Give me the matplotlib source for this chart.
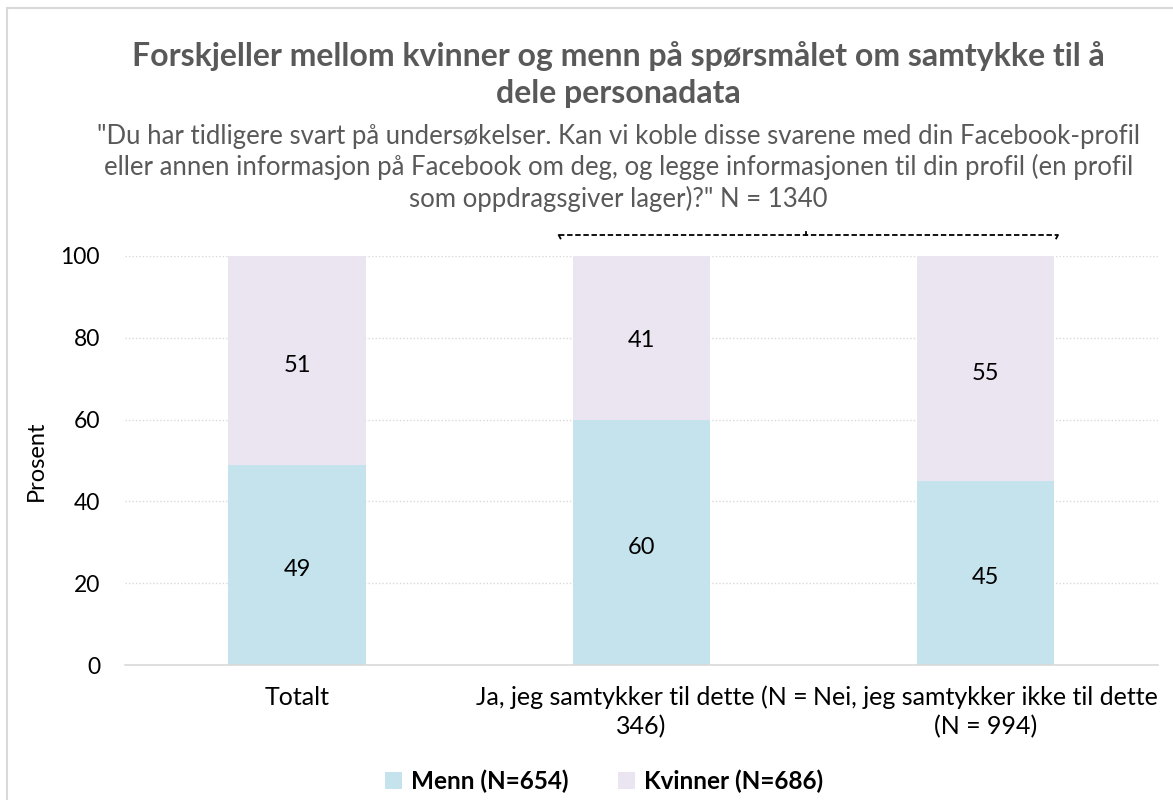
import numpy as np
import matplotlib
matplotlib.use("Agg")
from matplotlib import pyplot as plt
from matplotlib.patches import Rectangle

kategorier = ["Totalt", "Ja, jeg samtykker til dette (N =\n346)", "Nei, jeg samtykker ikke til dette\n(N = 994)"]
menn = [49, 60, 45]
kvinner = [51, 41, 55]
serie_navn = ["Menn (N=654)", "Kvinner (N=686)"]
farger = ["#C4E3EC", "#EAE5F0"]

plt.rcParams['font.family'] = ['Lato', 'DejaVu Sans']

fig = plt.figure(figsize=(11.73, 8), dpi=100)
ax = fig.add_axes([0.1066, 0.16875, 0.987 - 0.1066, 0.68 - 0.16875])

x = np.arange(len(kategorier))
b1 = ax.bar(x, menn, width=0.4, color=farger[0], label=serie_navn[0], zorder=2)
b2 = ax.bar(x, kvinner, width=0.4, bottom=menn, color=farger[1], label=serie_navn[1], zorder=2)

for i in range(len(x)):
    ax.annotate(str(menn[i]), (x[i], menn[i] / 2), xytext=(0, -3.5), textcoords="offset points",
                ha="center", va="center", fontsize=17, color="#000000")
    ax.annotate(str(kvinner[i]), (x[i], menn[i] + kvinner[i] / 2), xytext=(0, -3.5), textcoords="offset points",
                ha="center", va="center", fontsize=17, color="#000000")

ax.set_xlim(-0.5, 2.5)
ax.set_ylim(0, 100)
ax.set_yticks([0, 20, 40, 60, 80, 100])
ax.set_xticks(x)
ax.set_xticklabels(kategorier, fontsize=18, linespacing=1.3)
ax.tick_params(axis="y", labelsize=16.5, length=0, pad=18)
ax.tick_params(axis="x", length=0, pad=15)
ax.yaxis.grid(True, linestyle=(0, (1, 1.5)), color="#D9D9D9", linewidth=1, zorder=0)
for s in ["top", "right", "left"]:
    ax.spines[s].set_visible(False)
ax.spines["bottom"].set_color("#D9D9D9")
ax.spines["bottom"].set_linewidth(1.2)
ax.set_ylabel("Prosent", fontsize=17, labelpad=10)

# stiplet klamme over de to siste kategoriene
yb = 105.1
ax.plot([0.76, 2.21], [yb, yb], color="black", linestyle=(0, (3, 1.5)), linewidth=1.3, clip_on=False)
ax.plot([0.76, 0.765], [yb, yb - 0.8], color="black", linewidth=1.3, clip_on=False)
ax.plot([2.21, 2.205], [yb, yb - 0.8], color="black", linewidth=1.3, clip_on=False)
ax.plot([1.478, 1.478], [yb, yb + 0.8], color="black", linewidth=1.3, clip_on=False)

fig.text(0.527, 0.907, "Forskjeller mellom kvinner og menn på spørsmålet om samtykke til å\ndele personadata",
         ha="center", va="center", fontsize=23, fontweight="bold", color="#595959", linespacing=1.3)
fig.text(0.527, 0.79, "\"Du har tidligere svart på undersøkelser. Kan vi koble disse svarene med din Facebook-profil\n"
         "eller annen informasjon på Facebook om deg, og legge informasjonen til din profil (en profil\n"
         "som oppdragsgiver lager)?\" N = 1340",
         ha="center", va="center", fontsize=18.5, color="#595959", linespacing=1.25)

leg = fig.legend(handles=[b1, b2], loc="center", bbox_to_anchor=(0.515, 0.024), ncol=2, frameon=False,
                 prop={"size": 17.5, "weight": "bold"}, handlelength=0.7, handleheight=0.7,
                 columnspacing=2.0, handletextpad=0.4)

fig.patches.append(Rectangle((7 / 1173, -0.1), 1.2, 1.1 - 8 / 800, transform=fig.transFigure,
                             fill=False, edgecolor="#D9D9D9", linewidth=1.5))

fig.savefig("out.png", dpi=100)
